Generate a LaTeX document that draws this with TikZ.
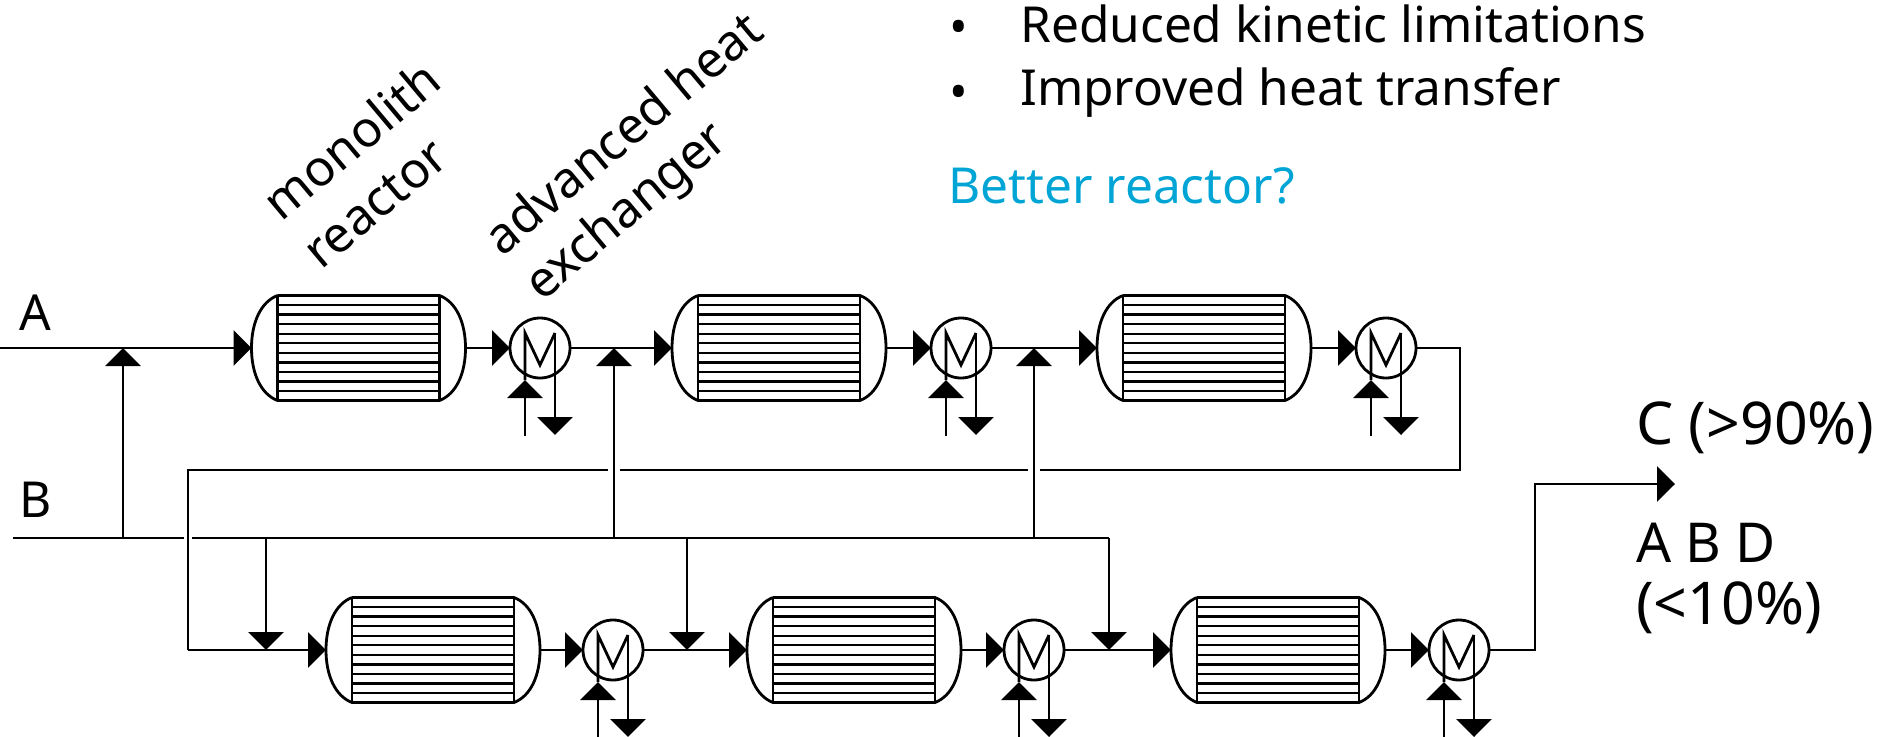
\documentclass[tikz,border=0pt]{standalone}
\usepackage{fontspec}
\setmainfont{Noto Sans}
\usetikzlibrary{arrows.meta}

\definecolor{question}{RGB}{0,165,214}

\tikzset{
	pipe/.style={line width=2.8pt},
	flow/.style={pipe, -{Triangle[length=18pt,width=35pt]}},
	reactor/.style={rectangle, minimum width=214pt, minimum height=105pt, inner sep=0pt, outer sep=0pt},
	exchanger/.style={circle, draw, line width=2.8pt, minimum size=60pt, inner sep=0pt, outer sep=0pt},
	label/.style={font=\fontsize{49.6}{60}\selectfont, inner sep=0pt, anchor=west},
	biglabel/.style={font=\fontsize{59}{70}\selectfont, inner sep=0pt, anchor=west},
	tilted/.style={font=\fontsize{50}{60}\selectfont, inner sep=0pt, rotate=40}
}

\newcommand{\reactorunit}[3]{
	\node[reactor] (#1) at (#2,#3) {};
	\begin{scope}[shift={(#1.center)}, pipe]
		\draw (-81,-52.5) -- (81,-52.5) .. controls (98,-46) and (107,-25) .. (107,0) .. controls (107,25) and (98,46) .. (81,52.5) -- (-81,52.5) .. controls (-98,46) and (-107,25) .. (-107,0) .. controls (-107,-25) and (-98,-46) .. (-81,-52.5);
		\draw (-81,-52.5) -- (-81,52.5);
		\draw (81,-52.5) -- (81,52.5);
		\foreach \i in {1,...,10}
			\draw[line width=2.3pt] (-81,-52.5+9.55*\i) -- (81,-52.5+9.55*\i);
	\end{scope}
}

\newcommand{\exchangerunit}[3]{
	\node[exchanger] (#1) at (#2,#3) {};
	\begin{scope}[shift={(#1.center)}]
		\coordinate (#1c) at (-15,88);
		\coordinate (#1m) at (-15,32);
		\coordinate (#1h) at (15,-15);
		\coordinate (#1o) at (15,87);
		\draw[pipe] (-15,32) -- (-15,-15) -- (0,17) -- (15,-15);
	\end{scope}
	\draw[flow] (#1c) -- (#1m);
	\draw[flow] (#1h) -- (#1o);
}

\begin{document}
\begin{tikzpicture}[x=1pt, y=-1pt]

	\useasboundingbox (0,0) rectangle (1886,736);

	\reactorunit{ra}{358.5}{348}
	\reactorunit{rb}{779}{348}
	\reactorunit{rc}{1204}{348}
	\reactorunit{rd}{433}{650}
	\reactorunit{re}{854}{650}
	\reactorunit{rf}{1278}{650}

	\exchangerunit{xa}{540}{348}
	\exchangerunit{xb}{961}{348}
	\exchangerunit{xc}{1386}{348}
	\exchangerunit{xd}{613}{650}
	\exchangerunit{xe}{1034}{650}
	\exchangerunit{xf}{1459}{650}

	\coordinate (feedA) at (0,348);
	\coordinate (feedB) at (13,538);
	\coordinate (mixA) at (123,348);
	\coordinate (tapA) at (123,538);
	\coordinate (mixB) at (614,348);
	\coordinate (tapB) at (614,538);
	\coordinate (mixC) at (1034,348);
	\coordinate (tapC) at (1034,538);
	\coordinate (mixD) at (266,650);
	\coordinate (tapD) at (266,538);
	\coordinate (mixE) at (687,650);
	\coordinate (tapE) at (687,538);
	\coordinate (mixF) at (1109,650);
	\coordinate (tapF) at (1109,538);
	\coordinate (gapL) at (184,538);
	\coordinate (gapR) at (192,538);
	\coordinate (backR) at (1460,470);
	\coordinate (backL) at (188,470);
	\coordinate (backB) at (188,650);
	\coordinate (cutA) at (608,470);
	\coordinate (cutB) at (620,470);
	\coordinate (cutC) at (1028,470);
	\coordinate (cutD) at (1040,470);
	\coordinate (outA) at (1535,484);
	\coordinate (outB) at (1675,484);

	% row 1
	\draw[flow] (feedA) -- (ra.west);
	\draw[flow] (ra.east) -- (xa.west);
	\draw[flow] (xa.east) -- (rb.west);
	\draw[flow] (rb.east) -- (xb.west);
	\draw[flow] (xb.east) -- (rc.west);
	\draw[flow] (rc.east) -- (xc.west);

	% row 2
	\draw[flow] (backB) -- (rd.west);
	\draw[flow] (rd.east) -- (xd.west);
	\draw[flow] (xd.east) -- (re.west);
	\draw[flow] (re.east) -- (xe.west);
	\draw[flow] (xe.east) -- (rf.west);
	\draw[flow] (rf.east) -- (xf.west);

	% B feed
	\draw[pipe] (feedB) -- (gapL);
	\draw[pipe] (gapR) -- (tapF);
	\draw[flow] (tapA) -- (mixA);
	\draw[flow] (tapB) -- (mixB);
	\draw[flow] (tapC) -- (mixC);
	\draw[flow] (tapD) -- (mixD);
	\draw[flow] (tapE) -- (mixE);
	\draw[flow] (tapF) -- (mixF);

	% recycle
	\draw[pipe] (xc.east) -| (backR) -- (cutD);
	\draw[pipe] (cutC) -- (cutB);
	\draw[pipe] (cutA) -- (backL) -- (backB);

	% product
	\draw[flow] (xf.east) -| (outA) -- (outB);

	\node[label] (nameA) at (19,313) {A};
	\node[label] (nameB) at (19,500) {B};
	\node[biglabel] (nameC) at (1636,428) {C (>90\%)};
	\node[label, font=\fontsize{55}{66}\selectfont] (nameD) at (1636,543) {A B D};
	\node[biglabel] (nameE) at (1636,608) {(<10\%)};

	\node[tilted] (mono) at (351,140) {monolith};
	\node[tilted] (reac) at (376,204) {reactor};
	\node[tilted] (heat) at (622,132) {advanced heat};
	\node[tilted] (exch) at (628,213) {exchanger};

	\node[label] (dotA) at (949,32) {•};
	\node[label] (dotB) at (949,97) {•};
	\node[label] (textA) at (1020,24) {Reduced kinetic limitations};
	\node[label] (textB) at (1020,92) {Improved heat transfer};
	\node[label, text=question] (textC) at (948,186) {Better reactor?};

\end{tikzpicture}
\end{document}
